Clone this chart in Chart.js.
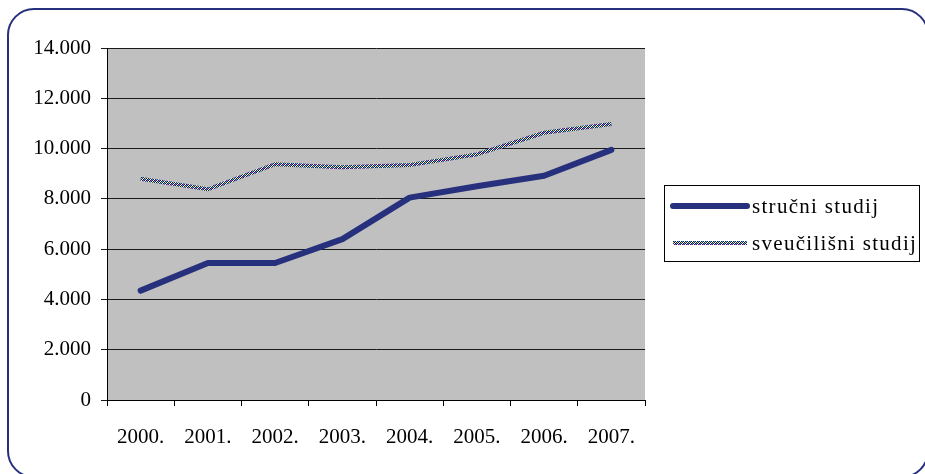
<!DOCTYPE html>
<html>
<head>
<meta charset="utf-8">
<script src="https://cdn.jsdelivr.net/npm/chart.js@4"></script>
<style>
  html, body { margin: 0; padding: 0; background: #fff; }
  #wrap { width: 925px; height: 474px; }
</style>
</head>
<body>
<div id="wrap"><canvas id="chart1" width="925" height="474"></canvas></div>
<script>
// data
const years = ['2000.', '2001.', '2002.', '2003.', '2004.', '2005.', '2006.', '2007.'];
const strucniStudij = [4350, 5450, 5450, 6400, 8050, 8500, 8920, 9950];
const sveucilisniStudij = [8800, 8380, 9380, 9260, 9350, 9770, 10630, 10980];
const yTicks = [0, 2000, 4000, 6000, 8000, 10000, 12000, 14000];

const navy = '#27307c';
const serif = "'Liberation Serif', 'Times New Roman', serif";

// speckled pattern for the second line
function makePattern() {
  const c = document.createElement('canvas');
  c.width = 4; c.height = 4;
  const g = c.getContext('2d');
  const px = [
    ['#141a5a', '#ffffff', '#141a5a', '#e040c0'],
    ['#ffffff', '#141a5a', '#30b0c0', '#141a5a'],
    ['#141a5a', '#e0e040', '#141a5a', '#ffffff'],
    ['#30b0c0', '#141a5a', '#ffffff', '#141a5a']
  ];
  for (let y = 0; y < 4; y++) {
    for (let x = 0; x < 4; x++) {
      g.fillStyle = px[y][x];
      g.fillRect(x, y, 1, 1);
    }
  }
  return document.getElementById('chart1').getContext('2d').createPattern(c, 'repeat');
}
const speckle = makePattern();

function fmt(v) {
  return String(v).replace(/\B(?=(\d{3})+(?!\d))/g, '.');
}

const framePlugin = {
  id: 'frame',
  beforeDraw(chart) {
    const ctx = chart.ctx;
    const a = chart.chartArea;
    ctx.save();
    // rounded outer frame
    ctx.strokeStyle = navy;
    ctx.lineWidth = 2;
    ctx.beginPath();
    ctx.roundRect(8, 9, 920, 468, 26);
    ctx.stroke();
    // gray plot area
    ctx.fillStyle = '#c0c0c0';
    ctx.fillRect(a.left, a.top, a.right - a.left, a.bottom - a.top);
    ctx.restore();
  },
  afterDraw(chart) {
    const ctx = chart.ctx;
    ctx.save();
    // legend box
    const bx = 664, by = 185, bw = 255, bh = 76;
    ctx.fillStyle = '#fff';
    ctx.fillRect(bx, by, bw, bh);
    ctx.strokeStyle = '#000';
    ctx.lineWidth = 1;
    ctx.strokeRect(bx + 0.5, by + 0.5, bw, bh);

    const rows = [
      { y: 206, color: navy, width: 6, label: chart.data.datasets[0].label },
      { y: 243, color: speckle, width: 4, label: chart.data.datasets[1].label }
    ];
    rows.forEach(r => {
      ctx.strokeStyle = r.color;
      ctx.lineWidth = r.width;
      ctx.lineCap = r.width > 5 ? 'round' : 'butt';
      ctx.beginPath();
      ctx.moveTo(673, r.y);
      ctx.lineTo(747, r.y);
      ctx.stroke();
      ctx.fillStyle = '#000';
      ctx.font = '21px ' + serif;
      ctx.letterSpacing = '1.3px';
      ctx.textBaseline = 'middle';
      ctx.fillText(r.label, 752, r.y + 1);
    });
    ctx.restore();
  }
};

new Chart(document.getElementById('chart1'), {
  type: 'line',
  data: {
    labels: years,
    datasets: [
      {
        label: 'stručni studij',
        data: strucniStudij,
        borderColor: navy,
        borderWidth: 6,
        borderCapStyle: 'round',
        borderJoinStyle: 'round',
        pointRadius: 0,
        tension: 0
      },
      {
        label: 'sveučilišni studij',
        data: sveucilisniStudij,
        borderColor: speckle,
        borderWidth: 4,
        pointRadius: 0,
        tension: 0
      }
    ]
  },
  options: {
    responsive: false,
    animation: false,
    layout: { padding: { left: 0, top: 48, right: 280, bottom: 0 } },
    plugins: {
      legend: { display: false },
      tooltip: { enabled: false }
    },
    scales: {
      x: {
        offset: true,
        afterFit: scale => { scale.height = 74; },
        grid: {
          offset: true,
          drawOnChartArea: false,
          tickLength: 6,
          color: '#000'
        },
        border: { color: '#000', width: 1 },
        ticks: {
          color: '#000',
          padding: 19,
          maxRotation: 0,
          font: { family: serif, size: 21 }
        }
      },
      y: {
        min: 0,
        max: 14000,
        afterFit: scale => { scale.width = 107; },
        afterBuildTicks: scale => { scale.ticks = yTicks.map(v => ({ value: v })); },
        grid: {
          color: '#1a1a1a',
          tickLength: 6,
          lineWidth: 1
        },
        border: { color: '#000', width: 1 },
        ticks: {
          color: '#000',
          padding: 10,
          font: { family: serif, size: 21 },
          callback: value => fmt(value)
        }
      }
    }
  },
  plugins: [framePlugin]
});
</script>
</body>
</html>
